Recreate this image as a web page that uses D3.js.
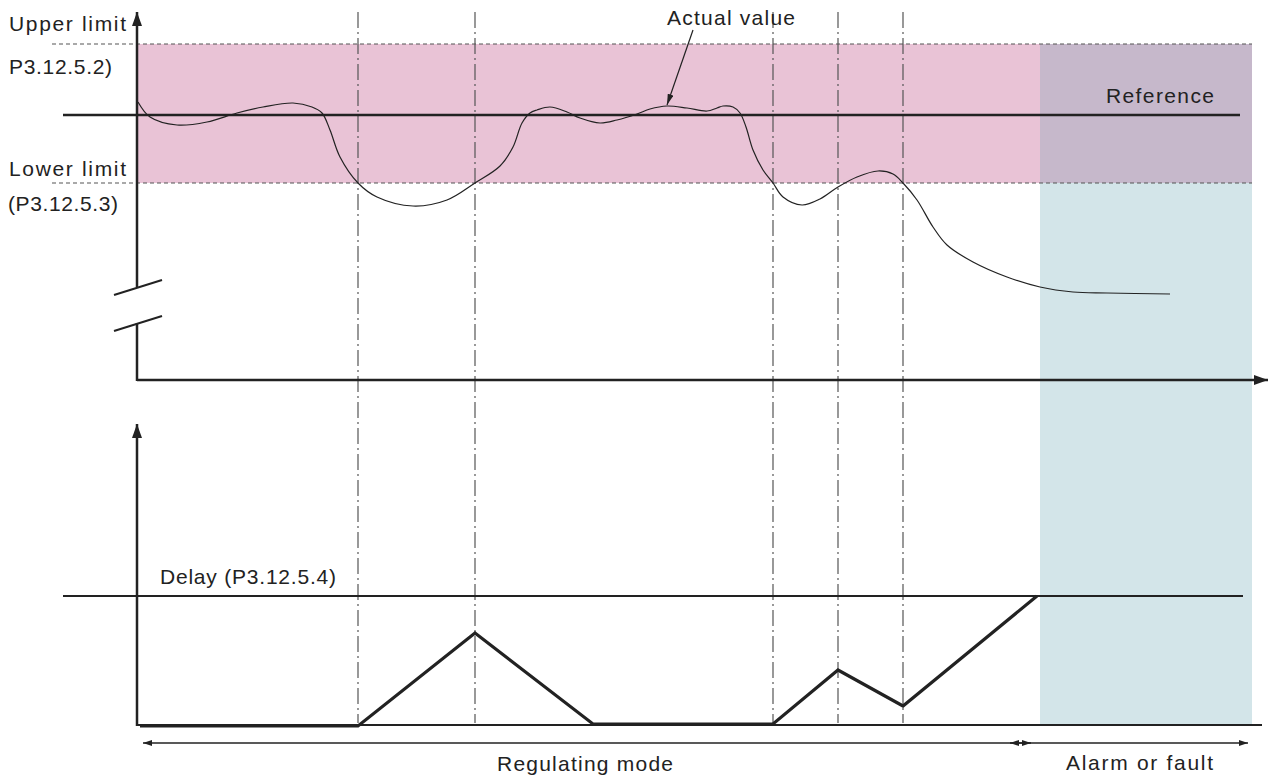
<!DOCTYPE html>
<html>
<head>
<meta charset="utf-8">
<script src="https://cdn.jsdelivr.net/npm/d3@7"></script>
<style>
  body { margin: 0; background: #fff; }
  text { font-family: "Liberation Sans", Arial, sans-serif; font-size: 21px; fill: #222; }
</style>
</head>
<body>
<div id="chart"></div>
<script>
// time axis in drawing units, value axis in drawing units (0 = x-axis)
var actualT = [1, 13, 40, 70, 100, 126, 156, 175, 185, 193, 203, 221, 240, 276, 310, 338, 363, 376, 385, 393,
               400, 413, 430, 443, 463, 480, 500, 513, 530, 550, 570, 580, 586, 596, 603, 609, 616, 626,
               636, 646, 665, 683, 701, 720, 741, 756, 766, 780, 796, 810, 836, 870, 903, 936, 970, 1033];
var actualV = [278, 263, 255, 258, 267, 273, 277, 273, 267, 250, 223, 197, 183, 174, 180, 197, 214, 233, 257, 267,
               270, 273, 268, 262, 257, 260, 266, 271, 274, 272, 269, 272, 274, 273, 267, 253, 230, 210,
               197, 183, 175, 181, 193, 203, 209, 206, 197, 180, 153, 135, 118, 103, 93, 88, 87, 86];

var referenceV = 265, upperV = 336, lowerV = 197;

var counterT = [3, 221, 338, 456, 636, 701, 766, 900];
var counterV = [-1, -1, 92, 1, 1, 55, 19, 129];
var delayV = 129;

var eventT = [221, 338, 636, 701, 766];
var alarmT = 903; // start of alarm region

var width = 1270, height = 778;

var svg = d3.select("#chart").append("svg")
    .attr("width", width)
    .attr("height", height);

var x = d3.scaleLinear().domain([0, 1130]).range([137, 1267]);
var yTop = d3.scaleLinear().domain([0, 368]).range([380, 12]);
var yBot = d3.scaleLinear().domain([0, 301]).range([725, 424]);

var defs = svg.append("defs");
function marker(id, len, wid, orient) {
  defs.append("marker")
      .attr("id", id)
      .attr("viewBox", "0 0 " + len + " " + wid)
      .attr("refX", len).attr("refY", wid / 2)
      .attr("markerWidth", len).attr("markerHeight", wid)
      .attr("markerUnits", "userSpaceOnUse")
      .attr("orient", orient)
    .append("path")
      .attr("d", "M0,0L" + len + "," + (wid / 2) + "L0," + wid + "Z")
      .attr("fill", "#222");
}
marker("axisHead", 14, 10, "auto");
marker("smallHead", 9, 6, "auto");
marker("smallHeadStart", 9, 6, "auto-start-reverse");
marker("pointerHead", 11, 6, "auto");

// coloured bands
svg.append("rect")
    .attr("x", x(0)).attr("y", yTop(upperV))
    .attr("width", x(alarmT) - x(0)).attr("height", yTop(lowerV) - yTop(upperV))
    .attr("fill", "#e9c3d6");
svg.append("rect")
    .attr("x", x(alarmT)).attr("y", yTop(upperV))
    .attr("width", x(1115) - x(alarmT)).attr("height", yTop(lowerV) - yTop(upperV))
    .attr("fill", "#c6b8cb");
svg.append("rect")
    .attr("x", x(alarmT)).attr("y", yTop(lowerV))
    .attr("width", x(1115) - x(alarmT)).attr("height", yBot(0) - yTop(lowerV))
    .attr("fill", "#d3e5e9");

// limit lines
[upperV, lowerV].forEach(function(v) {
  svg.append("line")
      .attr("x1", 52).attr("x2", x(1115))
      .attr("y1", yTop(v)).attr("y2", yTop(v))
      .attr("stroke", "#555").attr("stroke-width", 1.2)
      .attr("stroke-dasharray", "4,3");
});

// event lines
svg.selectAll(".event")
    .data(eventT)
  .enter().append("line")
    .attr("class", "event")
    .attr("x1", function(d) { return x(d); }).attr("x2", function(d) { return x(d); })
    .attr("y1", 12).attr("y2", yBot(2))
    .attr("stroke", "#555").attr("stroke-width", 1.2)
    .attr("stroke-dasharray", "16,4,2,4");

// reference line
svg.append("line")
    .attr("x1", 63).attr("x2", x(1103))
    .attr("y1", yTop(referenceV)).attr("y2", yTop(referenceV))
    .attr("stroke", "#222").attr("stroke-width", 2.5);

// actual value curve
var line = d3.line()
    .x(function(d) { return x(d[0]); })
    .y(function(d) { return yTop(d[1]); })
    .curve(d3.curveCatmullRom.alpha(0.5));
svg.append("path")
    .datum(d3.zip(actualT, actualV))
    .attr("d", line)
    .attr("fill", "none").attr("stroke", "#222").attr("stroke-width", 1.2);

// top axes with break
svg.append("line")
    .attr("x1", x(0)).attr("x2", x(0)).attr("y1", yTop(93)).attr("y2", yTop(368))
    .attr("stroke", "#222").attr("stroke-width", 2.5)
    .attr("marker-end", "url(#axisHead)");
svg.append("line")
    .attr("x1", x(0)).attr("x2", x(0)).attr("y1", yTop(-1)).attr("y2", yTop(57))
    .attr("stroke", "#222").attr("stroke-width", 2.5);
[[85, 100], [49, 64]].forEach(function(b) {
  svg.append("line")
      .attr("x1", x(-23)).attr("x2", x(25))
      .attr("y1", yTop(b[0])).attr("y2", yTop(b[1]))
      .attr("stroke", "#222").attr("stroke-width", 2);
});
svg.append("line")
    .attr("x1", x(0)).attr("x2", x(1131))
    .attr("y1", yTop(0)).attr("y2", yTop(0))
    .attr("stroke", "#222").attr("stroke-width", 2.5)
    .attr("marker-end", "url(#axisHead)");

// bottom chart
svg.append("line")
    .attr("x1", 63).attr("x2", x(1106))
    .attr("y1", yBot(delayV)).attr("y2", yBot(delayV))
    .attr("stroke", "#222").attr("stroke-width", 2);
svg.append("path")
    .datum(d3.zip(counterT, counterV))
    .attr("d", d3.line()
        .x(function(d) { return x(d[0]); })
        .y(function(d) { return yBot(d[1]); }))
    .attr("fill", "none").attr("stroke", "#222").attr("stroke-width", 3.2)
    .attr("stroke-linejoin", "miter");
svg.append("line")
    .attr("x1", x(0)).attr("x2", x(0)).attr("y1", yBot(-1)).attr("y2", yBot(301))
    .attr("stroke", "#222").attr("stroke-width", 2.5)
    .attr("marker-end", "url(#axisHead)");
svg.append("line")
    .attr("x1", x(0)).attr("x2", x(1125))
    .attr("y1", yBot(0)).attr("y2", yBot(0))
    .attr("stroke", "#222").attr("stroke-width", 2);

// range arrows
var arrowY = 743;
svg.append("line")
    .attr("x1", 143).attr("x2", 1031).attr("y1", arrowY).attr("y2", arrowY)
    .attr("stroke", "#222").attr("stroke-width", 1.3)
    .attr("marker-start", "url(#smallHeadStart)").attr("marker-end", "url(#smallHead)");
svg.append("line")
    .attr("x1", 1010).attr("x2", 1248).attr("y1", arrowY).attr("y2", arrowY)
    .attr("stroke", "#222").attr("stroke-width", 1.3)
    .attr("marker-start", "url(#smallHeadStart)").attr("marker-end", "url(#smallHead)");

// actual value pointer
svg.append("line")
    .attr("x1", 693).attr("y1", 30).attr("x2", 667).attr("y2", 105)
    .attr("stroke", "#222").attr("stroke-width", 1.2)
    .attr("marker-end", "url(#pointerHead)");

// labels
var labels = [
  { text: "Upper limit", x: 9, y: 31, w: 117 },
  { text: "P3.12.5.2)", x: 9, y: 74, w: 103 },
  { text: "Lower limit", x: 9, y: 176, w: 117 },
  { text: "(P3.12.5.3)", x: 8, y: 211, w: 110 },
  { text: "Actual value", x: 667, y: 25, w: 128 },
  { text: "Reference", x: 1106, y: 103, w: 108 },
  { text: "Delay (P3.12.5.4)", x: 160, y: 584, w: 176 },
  { text: "Regulating mode", x: 497, y: 771, w: 176 },
  { text: "Alarm or fault", x: 1066, y: 770, w: 147 }
];
svg.selectAll(".label")
    .data(labels)
  .enter().append("text")
    .attr("class", "label")
    .attr("x", function(d) { return d.x; })
    .attr("y", function(d) { return d.y; })
    .attr("textLength", function(d) { return d.w; })
    .attr("lengthAdjust", "spacing")
    .text(function(d) { return d.text; });
</script>
</body>
</html>
